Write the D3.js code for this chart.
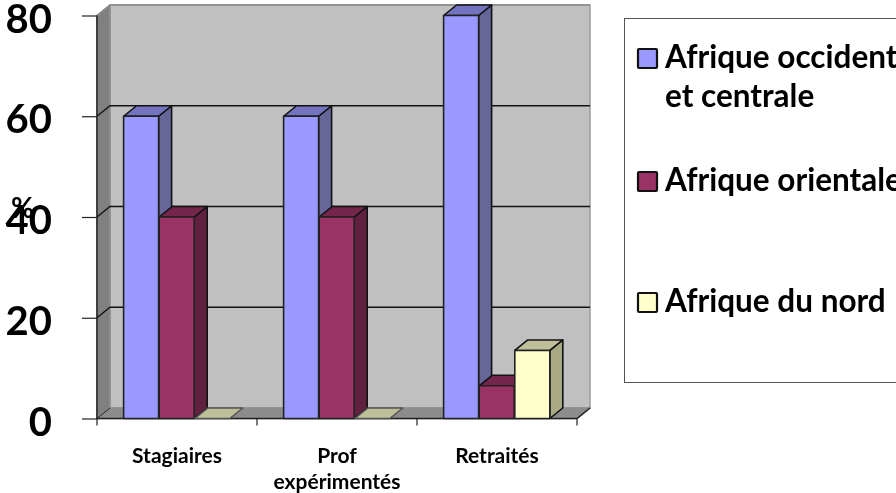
<!DOCTYPE html>
<html><head><meta charset="utf-8">
<script src="https://cdn.jsdelivr.net/npm/d3@7"></script>
<style>html,body{margin:0;padding:0;background:#fff;overflow:hidden}svg{display:block;filter:blur(0.35px)}text{font-family:Lato,"Open Sans",sans-serif;font-weight:700;fill:#000}</style>
</head><body><svg width="896" height="493"></svg>
<script>
const categories = ["Stagiaires", "Prof|expérimentés", "Retraités"];
const seriesNames = ["Afrique occidentale|et centrale", "Afrique orientale", "Afrique du nord"];
const occidentale = [60, 60, 80];
const orientale = [40, 40, 6.5];
const nord = [0, 0, 13.5];
const yTicks = [0, 20, 40, 60, 80];
const faceColors = ["#9999ff", "#993366", "#ffffcc"];
const topColors = ["#7373bf", "#732649", "#bfbf99"];
const sideColors = ["#666699", "#602040", "#a9a985"];
const legendBaseline = [68, 191, 312];

const values = [occidentale, orientale, nord];
const dx = 13, dy = -10.5;
const svg = d3.select("svg");
const x = d3.scaleBand().domain(categories).range([97, 577]);
const y = d3.scaleLinear().domain([0, 80]).range([418.5, 15.5]);
const xs = d3.scaleBand().domain(d3.range(3)).range([26.6, 133.4]);
const poly = (pts, fill, stroke) => svg.append("polygon").attr("points", pts.map(p => p.join(",")).join(" "))
  .attr("fill", fill).attr("stroke", stroke || "none").attr("stroke-width", 1.6).attr("stroke-linejoin", "round");

const y0 = y(0), yTop = y(80), xL = x.range()[0], xR = x.range()[1];
// walls
poly([[xL + dx, yTop + dy], [xR + dx, yTop + dy], [xR + dx, y0 + dy], [xL + dx, y0 + dy]], "#c0c0c0", "#a0a0a0");
poly([[xL, yTop], [xL + dx, yTop + dy], [xL + dx, y0 + dy], [xL, y0]], "#808080", "#909090");
poly([[xL, y0], [xL + dx, y0 + dy], [xR + dx, y0 + dy], [xR, y0]], "#8c8c8c", "#8c8c8c");

// gridlines
yTicks.slice(1).forEach(t => {
  const l = [[xL, y(t)], [xL + dx, y(t) + dy], [xR + dx, y(t) + dy]];
  svg.append("path").attr("d", d3.line()(l)).attr("fill", "none").attr("stroke", t === 80 ? "#8a8a8a" : "#111").attr("stroke-width", 1.3);
});
// floor front edge and axes
svg.append("path").attr("d", d3.line()([[xL, yTop], [xL, y0], [xR, y0], [xR + dx, y0 + dy]])).attr("fill", "none").attr("stroke", "#222").attr("stroke-width", 1.5);
svg.append("path").attr("d", d3.line()([[xL, y0], [xL + dx, y0 + dy]])).attr("fill", "none").attr("stroke", "#222").attr("stroke-width", 1);

// axis title (sits under the 40 label)
svg.append("text").attr("x", 22.5).attr("y", 218).attr("text-anchor", "middle").style("font-size", "28px").text("%");

// axes
const axisY = svg.append("g").attr("transform", `translate(${xL},0)`).call(d3.axisLeft(y).tickValues(yTicks).tickSize(15).tickPadding(30));
axisY.select(".domain").remove();
axisY.selectAll("line").attr("stroke", "#222").attr("stroke-width", 1.2);
axisY.selectAll("text").style("font-size", "40px").attr("dy", "16.5").attr("y", 0);

const tickX = svg.append("g").attr("transform", `translate(0,${y0})`);
tickX.selectAll("line").data(x.domain().map(c => x(c)).concat(xR)).join("line")
  .attr("x1", d => d).attr("x2", d => d).attr("y1", 0).attr("y2", 7).attr("stroke", "#222").attr("stroke-width", 1.2);

// bars
categories.forEach((c, i) => {
  values.forEach((v, s) => {
    const xa = x(c) + xs(s), xb = xa + xs.bandwidth() - 0.6, yt = y(v[i]);
    poly([[xb, yt], [xb + dx, yt + dy], [xb + dx, y0 + dy], [xb, y0]], v[i] > 0 ? sideColors[s] : "none", v[i] > 0 ? "#111" : "none");
    poly([[xa, yt], [xa + dx, yt + dy], [xb + dx, yt + dy], [xb, yt]], topColors[s], v[i] > 0 ? "#111" : "#555");
    if (v[i] > 0) poly([[xa, yt], [xb, yt], [xb, y0], [xa, y0]], faceColors[s], "#222");
  });
});

// category labels
categories.forEach(c => {
  const t = svg.append("text").attr("text-anchor", "middle").style("font-size", "21px");
  c.split("|").forEach((line, k) => t.append("tspan").attr("x", x(c) + x.bandwidth() / 2).attr("y", 463 + k * 26).text(line));
});

// legend
svg.append("rect").attr("x", 624.5).attr("y", 18.5).attr("width", 290).attr("height", 364).attr("fill", "#fff").attr("stroke", "#555").attr("stroke-width", 1);
seriesNames.forEach((n, s) => {
  svg.append("rect").attr("x", 638).attr("y", legendBaseline[s] - 19).attr("width", 19).attr("height", 19).attr("fill", faceColors[s]).attr("stroke", "#111").attr("stroke-width", 2.2).attr("rx", 1);
  const t = svg.append("text").style("font-size", "31.5px");
  n.split("|").forEach((line, k) => t.append("tspan").attr("x", 665).attr("y", legendBaseline[s] + k * 39).text(line));
});
</script></body></html>
